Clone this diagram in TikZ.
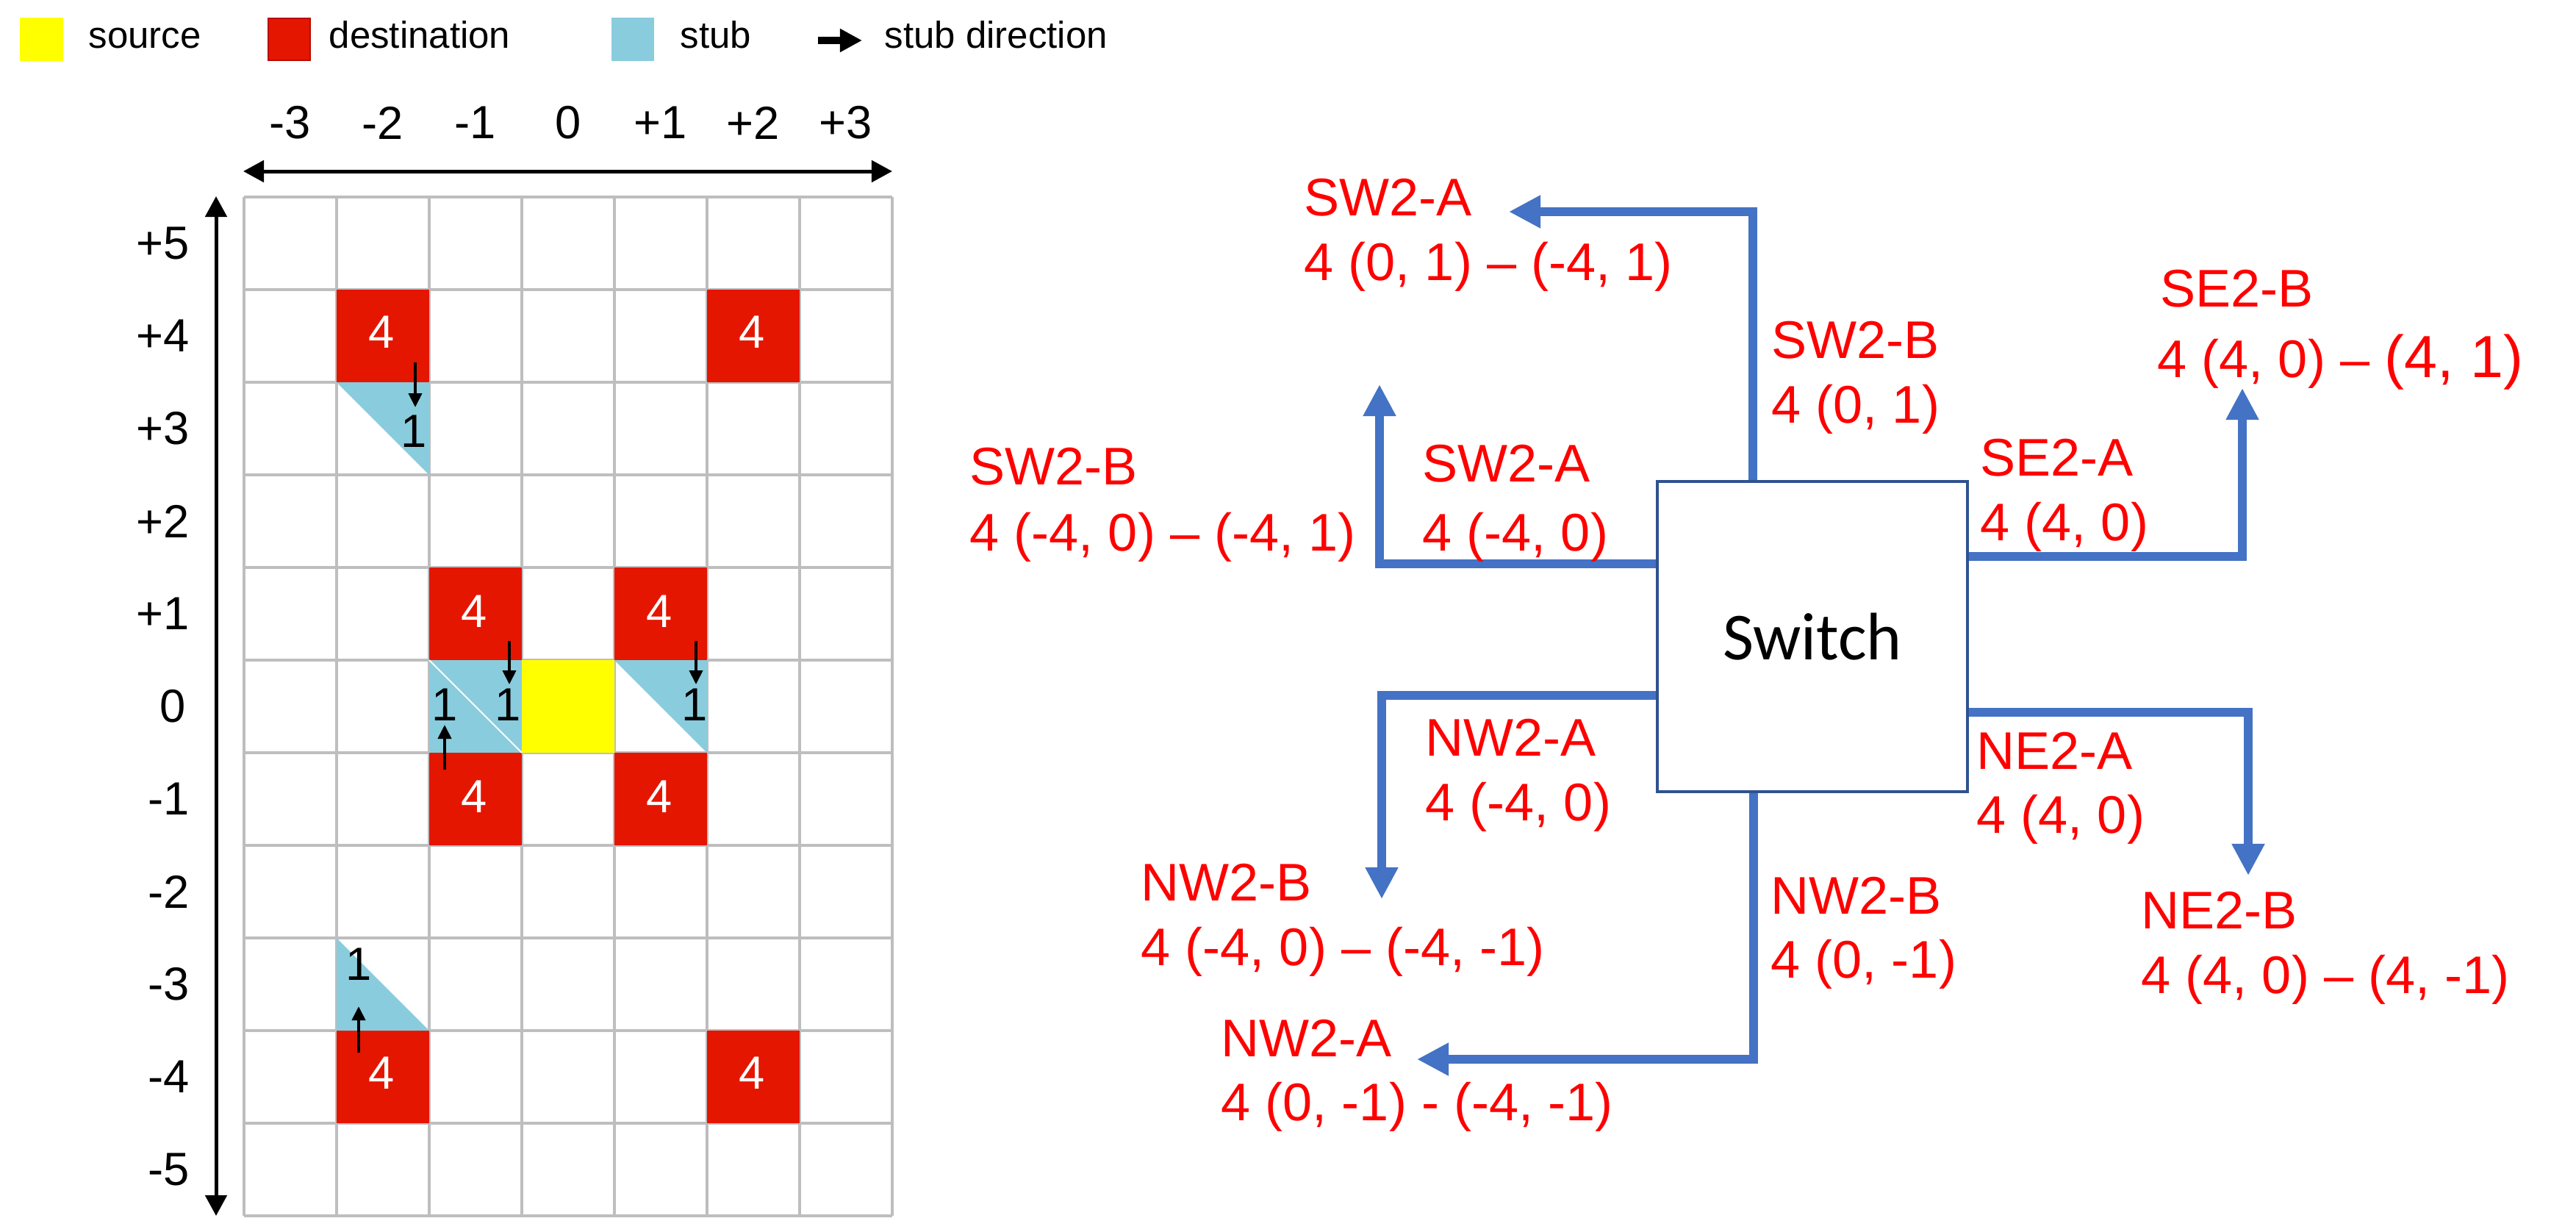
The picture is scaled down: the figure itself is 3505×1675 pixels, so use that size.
\documentclass[tikz,border=0pt]{standalone}
\usepackage{fontspec}
\setmainfont{Liberation Sans}
\newfontfamily\swfont{Carlito}
\usetikzlibrary{arrows.meta}
\definecolor{dest}{RGB}{228,22,0}
\definecolor{destb}{RGB}{185,10,0}
\definecolor{stubc}{RGB}{137,204,221}
\definecolor{srcc}{RGB}{255,255,0}
\definecolor{gridc}{RGB}{190,190,190}
\definecolor{flow}{RGB}{68,114,196}
\definecolor{swb}{RGB}{47,82,143}
\definecolor{lab}{RGB}{255,0,0}
\begin{document}
\begin{tikzpicture}[x=0.01cm,y=-0.01cm,
  gridlab/.style={font=\fontsize{18}{20}\selectfont, text=black, inner sep=0},
  fourlab/.style={font=\fontsize{18}{20}\selectfont, text=white, inner sep=0},
  onelab/.style={font=\fontsize{18}{20}\selectfont, text=black, inner sep=0},
  legtext/.style={font=\fontsize{14.5}{17}\selectfont, anchor=base west, inner sep=0},
  rlab/.style={font=\fontsize{20.5}{25}\selectfont, text=lab, anchor=base west, inner sep=0},
  flowarrow/.style={draw=flow, line width=0.125cm, -{Triangle[width=0.42cm,length=0.43cm]}},
  stubarrow/.style={line width=0.04cm, -{Triangle[width=0.18cm,length=0.19cm]}},
  axisarrow/.style={line width=0.05cm, {Triangle[width=0.29cm,length=0.28cm]}-{Triangle[width=0.29cm,length=0.28cm]}},
  gridline/.style={draw=gridc, line width=0.035cm},
]
\fill[white] (0,0) rectangle (3505,1675);
\useasboundingbox (0,0) rectangle (3505,1675);

% ---------- legend ----------
\fill[srcc] (27,24) rectangle (86,83);
\node[legtext] (lsrc) at (120,65) {source};
\filldraw[fill=dest, draw=destb, line width=0.02cm] (365,25) rectangle (422,82);
\node[legtext] (ldest) at (447,65) {destination};
\fill[stubc] (832,24) rectangle (890,83);
\node[legtext] (lstub) at (925,65) {stub};
\coordinate (la1) at (1113,55);
\coordinate (la2) at (1173,55);
\draw[line width=0.1cm, -{Triangle[width=0.3cm,length=0.3cm]}] (la1) -- (la2);
\node[legtext] (ldir) at (1203,65) {stub direction};

% ---------- grid ----------
\foreach \i in {0,...,7} \draw[gridline] ({332+\i*126},268) -- ({332+\i*126},1654);
\foreach \j in {0,...,11} \draw[gridline] (332,{268+\j*126}) -- (1214,{268+\j*126});

% axis arrows
\coordinate (hx1) at (331,233);
\coordinate (hx2) at (1214,233);
\coordinate (vy1) at (294,267);
\coordinate (vy2) at (294,1654);
\draw[axisarrow] (hx1) -- (hx2);
\draw[axisarrow] (vy1) -- (vy2);

% top labels
\node[gridlab] (tm3) at (395,167) {-3};
\node[gridlab] (tm2) at (521,167) {-2};
\node[gridlab] (tm1) at (647,167) {-1};
\node[gridlab] (t0)  at (773,167) {0};
\node[gridlab] (tp1) at (899,167) {+1};
\node[gridlab] (tp2) at (1025,167) {+2};
\node[gridlab] (tp3) at (1151,167) {+3};
% left labels
\node[gridlab, anchor=east] (rp5) at (258,331) {+5};
\node[gridlab, anchor=east] (rp4) at (258,457) {+4};
\node[gridlab, anchor=east] (rp3) at (258,583) {+3};
\node[gridlab, anchor=east] (rp2) at (258,709) {+2};
\node[gridlab, anchor=east] (rp1) at (258,835) {+1};
\node[gridlab, anchor=east] (r0)  at (253,961) {0};
\node[gridlab, anchor=east] (rm1) at (258,1087) {-1};
\node[gridlab, anchor=east] (rm2) at (258,1213) {-2};
\node[gridlab, anchor=east] (rm3) at (258,1339) {-3};
\node[gridlab, anchor=east] (rm4) at (258,1465) {-4};
\node[gridlab, anchor=east] (rm5) at (258,1591) {-5};

% source
\fill[srcc] (710,898) rectangle ++(126,126);

% destinations
\fill[dest] (458,394) rectangle ++(126,126);
\fill[dest] (962,394) rectangle ++(126,126);
\fill[dest] (584,772) rectangle ++(126,126);
\fill[dest] (836,772) rectangle ++(126,126);
\fill[dest] (584,1024) rectangle ++(126,126);
\fill[dest] (836,1024) rectangle ++(126,126);
\fill[dest] (458,1402) rectangle ++(126,126);
\fill[dest] (962,1402) rectangle ++(126,126);
\node[fourlab] (d1) at (519,452) {4};
\node[fourlab] (d2) at (1023,452) {4};
\node[fourlab] (d3) at (645,832) {4};
\node[fourlab] (d4) at (897,832) {4};
\node[fourlab] (d5) at (645,1084) {4};
\node[fourlab] (d6) at (897,1084) {4};
\node[fourlab] (d7) at (519,1460) {4};
\node[fourlab] (d8) at (1023,1460) {4};

% stubs
\fill[stubc] (458,520) -- (584,520) -- (584,646) -- cycle;
\fill[stubc] (584,898) rectangle ++(126,126);
\draw[white, line width=0.02cm] (584,898) -- (710,1024);
\fill[stubc] (836,898) -- (962,898) -- (962,1024) -- cycle;
\fill[stubc] (458,1276) -- (458,1402) -- (584,1402) -- cycle;

\node[onelab] (s1) at (563,587) {1};
\node[onelab] (s2) at (691,959) {1};
\node[onelab] (s3) at (605,959) {1};
\node[onelab] (s4) at (945,959) {1};
\node[onelab] (s5) at (488,1312) {1};

% stub direction arrows
\coordinate (sa1) at (565,493);  \coordinate (sb1) at (565,554);
\coordinate (sa2) at (693,872);  \coordinate (sb2) at (693,931);
\coordinate (sa3) at (605,1047); \coordinate (sb3) at (605,986);
\coordinate (sa4) at (947,872);  \coordinate (sb4) at (947,931);
\coordinate (sa5) at (488,1432); \coordinate (sb5) at (488,1369);
\draw[stubarrow] (sa1) -- (sb1);
\draw[stubarrow] (sa2) -- (sb2);
\draw[stubarrow] (sa3) -- (sb3);
\draw[stubarrow] (sa4) -- (sb4);
\draw[stubarrow] (sa5) -- (sb5);

% ---------- switch ----------
\node[draw=swb, line width=0.04cm, minimum size=4.22cm, inner sep=0,
      font=\swfont\fontsize{26}{30}\selectfont] (sw) at (2466,866) {Switch};

% corners and tips
\coordinate (c1) at (2385,288);  \coordinate (t1) at (2053,288);
\coordinate (c2) at (1877,767);  \coordinate (t2) at (1877,523);
\coordinate (c3) at (1880,946);  \coordinate (t3) at (1880,1223);
\coordinate (c4) at (2386,1441); \coordinate (t4) at (1928,1441);
\coordinate (c5) at (3051,757);  \coordinate (t5) at (3051,528);
\coordinate (c6) at (3059,969);  \coordinate (t6) at (3059,1191);

\draw[flowarrow] (c1 |- sw.north) -- (c1) -- (t1);
\draw[flowarrow] (c2 -| sw.west) -- (c2) -- (t2);
\draw[flowarrow] (c3 -| sw.west) -- (c3) -- (t3);
\draw[flowarrow] (c4 |- sw.south) -- (c4) -- (t4);
\draw[flowarrow] (c5 -| sw.east) -- (c5) -- (t5);
\draw[flowarrow] (c6 -| sw.east) -- (c6) -- (t6);

% ---------- labels ----------
\node[rlab] (l1a) at (1774,293) {SW2-A};
\node[rlab] (l1b) at (1774,381) {4 (0, 1) – (-4, 1)};
\node[rlab] (l2a) at (1319,659) {SW2-B};
\node[rlab] (l2b) at (1319,749) {4 (-4, 0) – (-4, 1)};
\node[rlab] (l3a) at (1935,655) {SW2-A};
\node[rlab] (l3b) at (1935,749) {4 (-4, 0)};
\node[rlab] (l4a) at (2410,487) {SW2-B};
\node[rlab] (l4b) at (2410,575) {4 (0, 1)};
\node[rlab] (l5a) at (2939,417) {SE2-B};
\node[rlab] (l5b) at (2935,513) {4 (4, 0) – {\fontsize{23}{27}\selectfont(4, 1)}};
\node[rlab] (l6a) at (2694,647) {SE2-A};
\node[rlab] (l6b) at (2694,735) {4 (4, 0)};
\node[rlab] (l7a) at (1939,1028) {NW2-A};
\node[rlab] (l7b) at (1939,1116) {4 (-4, 0)};
\node[rlab] (l8a) at (1552,1225) {NW2-B};
\node[rlab] (l8b) at (1552,1313) {4 (-4, 0) – (-4, -1)};
\node[rlab] (l9a) at (1661,1437) {NW2-A};
\node[rlab] (l9b) at (1661,1524) {4 (0, -1) - (-4, -1)};
\node[rlab] (l10a) at (2409,1243) {NW2-B};
\node[rlab] (l10b) at (2409,1330) {4 (0, -1)};
\node[rlab] (l11a) at (2689,1046) {NE2-A};
\node[rlab] (l11b) at (2689,1133) {4 (4, 0)};
\node[rlab] (l12a) at (2913,1263) {NE2-B};
\node[rlab] (l12b) at (2913,1351) {4 (4, 0) – (4, -1)};
\end{tikzpicture}
\end{document}
